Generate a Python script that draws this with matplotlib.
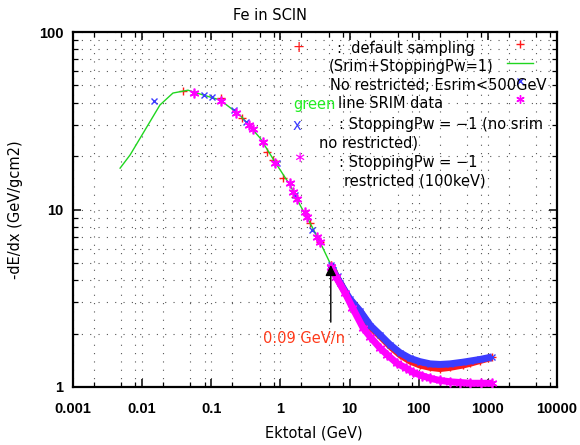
import matplotlib
matplotlib.use('Agg')
import matplotlib.pyplot as plt
from matplotlib.lines import Line2D
from matplotlib.ticker import LogLocator, NullFormatter, FixedFormatter, FixedLocator

W, H = 580, 445

# ---------------- data ----------------
# green line: SRIM data
srim_E = [0.0048, 0.0067, 0.0117, 0.0181, 0.0279, 0.046, 0.0759, 0.134, 0.26, 0.507,
          0.836, 1.38, 1.92, 2.68, 3.73, 5.38, 7.28, 14.2, 27.5, 53.6, 104, 150]
srim_y = [17.1, 20.3, 29.2, 38.8, 45.3, 47.0, 44.2, 41.4, 34.0, 25.3,
          18.5, 13.7, 10.6, 8.4, 6.56, 4.87, 3.85, 2.64, 1.95, 1.54, 1.36, 1.31]

# red '+': default sampling (sparse part, then dense band)
red_pts_E = [0.039, 0.138, 0.278, 0.64, 0.78, 1.09, 1.62, 2.68, 3.73, 5.38]
red_pts_y = [46.6, 42.5, 32.7, 21.1, 19.0, 15.0, 11.7, 8.4, 6.56, 4.87]
red_band_E = [5.38, 5.75, 7.3, 10, 14.2, 20, 27.5, 38.5, 53.6, 75, 104, 146, 203, 284,
              437, 552, 771, 1000, 1150]
red_band_y = [4.87, 4.56, 3.84, 3.1, 2.66, 2.18, 1.94, 1.70, 1.52, 1.40, 1.33, 1.29, 1.27,
              1.29, 1.33, 1.36, 1.41, 1.45, 1.47]

# blue 'x': StoppingPw = -1 (no srim, no restricted)
blue_pts_E = [0.0148, 0.0785, 0.102, 0.214, 0.318, 0.893, 1.62, 2.87, 5.75, 6.81]
blue_pts_y = [40.8, 44.2, 43.0, 36.3, 31.1, 18.3, 12.1, 7.66, 4.56, 4.22]
blue_band_E = [5.4, 5.75, 7.3, 10, 14.2, 20, 27.5, 38.5, 53.6, 75, 104, 146, 203, 284,
               437, 552, 771, 1000, 1150]
blue_band_y = [4.87, 4.56, 3.86, 3.15, 2.68, 2.22, 1.97, 1.73, 1.56, 1.45, 1.39, 1.35, 1.34,
               1.35, 1.38, 1.40, 1.43, 1.46, 1.48]

# magenta '*': StoppingPw = -1 restricted (100keV)
mag_pts_E = [0.056, 0.138, 0.228, 0.35, 0.40, 0.56, 0.836, 1.38, 1.52, 1.74, 2.27, 2.42,
             3.38, 3.73, 5.38]
mag_pts_y = [45.3, 40.8, 35.0, 29.9, 28.4, 24.0, 18.3, 14.1, 12.6, 11.5, 9.69, 9.08,
             7.0, 6.56, 4.74]
mag_band_E = [5.38, 6.37, 8.6, 11, 15.7, 20, 27.5, 35, 48.5, 65, 82.8, 110, 146, 200, 284,
              400, 552, 800, 1150]
mag_band_y = [4.74, 4.17, 3.39, 2.80, 2.15, 1.91, 1.66, 1.52, 1.36, 1.28, 1.21, 1.16, 1.12,
              1.09, 1.07, 1.06, 1.05, 1.05, 1.05]

x_ticks = [0.001, 0.01, 0.1, 1, 10, 100, 1000, 10000]
x_tick_labels = ['0.001', '0.01', '0.1', '1', '10', '100', '1000', '10000']
y_ticks = [1, 10, 100]
y_tick_labels = ['1', '10', '100']

arrow_E = 5.35
arrow_tip_y = 4.87
arrow_tail_y = 2.32

# ---------------- styling ----------------
RED = '#ff1a1a'
GREEN = '#1fd61f'
GREEN_TXT = '#22ee22'
BLUE = '#3c3cff'
MAG = '#ff00ff'
ASTER = (6, 2, 0)

fig = plt.figure(figsize=(W / 100, H / 100), dpi=100)
L, R, T, B = 73, 557, 32, 387
ax = fig.add_axes([L / W, 1 - B / H, (R - L) / W, (B - T) / H])
ax.set_xscale('log')
ax.set_yscale('log')
ax.set_xlim(1e-3, 1e4)
ax.set_ylim(1, 100)


def fx(px):
    return px / W


def fy(py):
    return 1 - py / H


# grid
ax.xaxis.set_major_locator(FixedLocator(x_ticks))
ax.xaxis.set_major_formatter(FixedFormatter(x_tick_labels))
ax.xaxis.set_minor_locator(LogLocator(base=10, subs=(2, 5, 8), numticks=20))
ax.xaxis.set_minor_formatter(NullFormatter())
ax.yaxis.set_major_locator(FixedLocator(y_ticks))
ax.yaxis.set_major_formatter(FixedFormatter(y_tick_labels))
ax.yaxis.set_minor_locator(LogLocator(base=10, subs=range(2, 10), numticks=20))
ax.yaxis.set_minor_formatter(NullFormatter())
gridkw = dict(color='#555555', lw=0.8, dashes=(1.0, 6.5))
ax.grid(True, which='both', **gridkw)
ax.set_axisbelow(True)

for s in ax.spines.values():
    s.set_linewidth(1.6)
ax.tick_params(which='both', direction='in', top=True, right=True, color='black')
ax.tick_params(which='major', length=6, width=1.1)
ax.tick_params(which='minor', length=3.5, width=0.9)
ax.tick_params(axis='x', which='major', pad=11)
ax.tick_params(axis='y', which='major', pad=7)
for lab in ax.get_xticklabels() + ax.get_yticklabels():
    lab.set_fontfamily('Liberation Sans')
    lab.set_fontweight('bold')
    lab.set_fontsize(10.5)

# ---------------- data drawing ----------------
ax.plot(red_pts_E, red_pts_y, ls='none', marker='+', ms=6, mew=1.0, color=RED, zorder=3)
ax.plot(red_band_E, red_band_y, ls='-', lw=5, color=RED, marker='+', ms=6, mew=1.0,
        zorder=3, solid_capstyle='butt')
ax.plot(srim_E, srim_y, ls='-', lw=1.0, color=GREEN, zorder=4)
ax.plot(blue_pts_E, blue_pts_y, ls='none', marker='x', ms=5, mew=1.0, color=BLUE, zorder=5)
ax.plot(blue_band_E, blue_band_y, ls='-', lw=5, color=BLUE, marker='x', ms=5, mew=1.0,
        zorder=5, solid_capstyle='butt')
ax.plot(mag_pts_E, mag_pts_y, ls='none', marker=ASTER, ms=7, mew=1.2, color=MAG, zorder=6)
ax.plot(mag_band_E, mag_band_y, ls='-', lw=5, color=MAG, marker=ASTER, ms=7, mew=1.2,
        zorder=6, solid_capstyle='butt')

# arrow + annotation
ax.annotate('', xy=(arrow_E, arrow_tip_y), xytext=(arrow_E, arrow_tail_y),
            arrowprops=dict(arrowstyle='-|>', color='black', lw=1.0, mutation_scale=16,
                            shrinkA=0, shrinkB=0), zorder=7)
fig.text(fx(304), fy(338), '0.09 GeV/n', color='#ff3a1a', fontsize=10.5,
         ha='center', va='center', family='DejaVu Sans')

# ---------------- legend samples ----------------
handles = [Line2D([], [], ls='none', marker='+', ms=6, mew=1.0, color=RED),
           Line2D([], [], ls='-', lw=1.0, color=GREEN),
           Line2D([], [], ls='none', marker='x', ms=5, mew=1.0, color=BLUE),
           Line2D([], [], ls='none', marker=ASTER, ms=6, mew=1.0, color=MAG)]
leg = ax.legend(handles, [' '] * 4, loc='upper left', frameon=False,
                bbox_to_anchor=(fx(507), fy(38)), bbox_transform=fig.transFigure,
                handlelength=1.9, handletextpad=0.0, borderpad=0, borderaxespad=0,
                labelspacing=0.32, fontsize=10)

# ---------------- legend texts ----------------
tkw = dict(fontsize=10.5, va='center', ha='left', family='DejaVu Sans',
           transform=fig.transFigure, clip_on=True, zorder=8)
t = []
t.append(ax.text(fx(293), fy(48), '+', color=RED, **tkw))
t.append(ax.text(fx(337), fy(48), ':  default sampling', color='black', **tkw))
t.append(ax.text(fx(329), fy(67), '(Srim+StoppingPw=1)', color='black', **tkw))
t.append(ax.text(fx(330), fy(86), 'No restricted; Esrim<500GeV', color='black', **tkw))
t.append(ax.text(fx(293), fy(104), 'green', color=GREEN_TXT, **tkw))
t.append(ax.text(fx(338), fy(104), 'line SRIM data', color='black', **tkw))
t.append(ax.text(fx(293), fy(125), 'x', color=BLUE, **tkw))
t.append(ax.text(fx(339), fy(125), ': StoppingPw = \u22121 (no srim', color='black', **tkw))
t.append(ax.text(fx(319), fy(143), 'no restricted)', color='black', **tkw))
t.append(ax.text(fx(293), fy(158), '\u2217', color=MAG, **tkw))
t.append(ax.text(fx(339), fy(162), ': StoppingPw = \u22121', color='black', **tkw))
t.append(ax.text(fx(344), fy(181), 'restricted (100keV)', color='black', **tkw))
for tt in t:
    tt.set_clip_box(ax.bbox)

# ---------------- titles ----------------
fig.text(fx(270), fy(15), 'Fe in SCIN', fontsize=10.5, ha='center', va='center',
         family='DejaVu Sans')
fig.text(fx(314), fy(433), 'Ektotal (GeV)', fontsize=10.5, ha='center', va='center',
         family='DejaVu Sans')
fig.text(fx(16), fy(210), '-dE/dx (GeV/gcm2)', fontsize=10.5, ha='center', va='center',
         rotation=90, family='DejaVu Sans')

fig.savefig('out.png', dpi=100)
